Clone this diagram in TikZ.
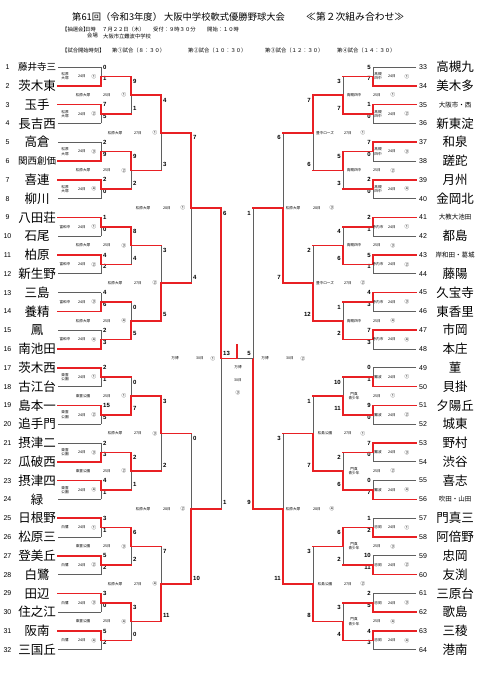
\documentclass[tikz,border=0pt]{standalone}
\usepackage{fontspec}
\setmainfont{Liberation Sans}
\newfontfamily\jp{Noto Sans CJK JP}
\definecolor{redline}{RGB}{232,32,36}
\definecolor{grayline}{RGB}{95,95,95}

\tikzset{
  win/.style={draw=redline,line width=1.6pt,line cap=rect},
  lose/.style={draw=grayline,line width=0.7pt},
  sc/.style={inner sep=0pt,font=\fontsize{6}{6}\selectfont\bfseries},
  tnum/.style={inner sep=0pt,font=\fontsize{7}{7}\selectfont},
  nb/.style={inner sep=0pt,font=\jp\fontsize{12.5}{12.5}\selectfont},
  nm/.style={inner sep=0pt,font=\jp\fontsize{9.5}{9.5}\selectfont},
  ns/.style={inner sep=0pt,font=\jp\fontsize{6.5}{6.5}\selectfont},
  lbl/.style={inner sep=0pt,align=center,font=\jp\fontsize{3.6}{4.4}\selectfont},
  cn/.style={inner sep=0pt,font=\jp\fontsize{4.6}{4.6}\selectfont},
  hd/.style={inner sep=0pt,anchor=west,font=\jp\fontsize{5.3}{5.3}\selectfont},
}

\newcommand{\cnum}[1]{\ifcase#1\or①\or②\or③\or④\fi}

% match: name, top, bottom, top score, bottom score, f(irst)/r, l/r side
\newcommand{\mtch}[7]{%
  \ifnum#4>#5\relax\edef\mwin{#2}\edef\mlos{#3}\else\edef\mwin{#3}\edef\mlos{#2}\fi
  \if#6f\tikzset{hz/.style={lose}}\def\ya{0pt}\def\yb{7pt}\else\tikzset{hz/.style={win}}\def\ya{-5pt}\def\yb{6pt}\fi
  \if#7l\def\an{west}\def\xs{2pt}\else\def\an{east}\def\xs{-2pt}\fi
  \draw[lose] (\mlos -| #1) -- (#1);
  \draw[hz] (\mlos) -- (\mlos -| #1);
  \draw[win] (\mwin) -- (\mwin -| #1) -- (#1);
  \node[sc,anchor=\an,xshift=\xs,yshift=\ya] (p#1) at (#2 -| #1) {#4};
  \node[sc,anchor=\an,xshift=\xs,yshift=\yb] (q#1) at (#3 -| #1) {#5};
}

% venue, day and game number of a match
\newcommand{\mlab}[7]{%
  \node[lbl,xshift=#5pt] (v#1) at (#1) {#2};
  \node[lbl,xshift=#6pt] (d#1) at (#1) {#3};
  \node[cn,xshift=#7pt] (c#1) at (#1) {\cnum{#4}};
}

\begin{document}
\begin{tikzpicture}[x=1pt,y=-1pt]
\fill[white] (0,0) rectangle (480,679);
\useasboundingbox (0,0) rectangle (480,679);

% heading
\node[inner sep=0pt,anchor=west,font=\jp\fontsize{9.3}{9.3}\selectfont] (ttl) at (72,17) {第61回（令和3年度）\hspace{2pt}大阪中学校軟式優勝野球大会};
\node[inner sep=0pt,anchor=west,font=\jp\fontsize{9.8}{9.8}\selectfont] (sub) at (306,17) {≪第２次組み合わせ≫};
\node[hd] (h1) at (62,29) {【抽選会】};
\node[hd] (h2) at (85,29) {日時};
\node[hd] (h3) at (102,29) {７月２２日（木）};
\node[hd] (h4) at (153,29) {受付：９時３０分};
\node[hd] (h5) at (207,29) {開始：１０時};
\node[hd] (h6) at (87,36) {会場};
\node[hd] (h7) at (103,36) {大阪市立難波中学校};
\node[hd] (h8) at (62,50) {【試合開始時刻】};
\node[hd] (h9) at (112,50) {第①試合（８：３０）};
\node[hd] (h10) at (188,50) {第②試合（１０：３０）};
\node[hd] (h11) at (265,50) {第③試合（１２：３０）};
\node[hd] (h12) at (337,50) {第④試合（１４：３０）};

% match points
\foreach \k in {1,...,16}{
  \coordinate (La\k) at (101,{67+(2*\k-1.5)*18.8});
  \coordinate (Ra\k) at (373,{67+(2*\k-1.5)*18.8});
}
\foreach \k in {1,...,8}{
  \coordinate (Lb\k) at (131,{67+(4*\k-2.5)*18.8});
  \coordinate (Rb\k) at (343,{67+(4*\k-2.5)*18.8});
}
\foreach \k in {1,...,4}{
  \coordinate (Lc\k) at (161,{67+(8*\k-4.5)*18.8});
  \coordinate (Rc\k) at (313,{67+(8*\k-4.5)*18.8});
}
\foreach \k in {1,2}{
  \coordinate (Ld\k) at (191,{67+(16*\k-8.5)*18.8});
  \coordinate (Rd\k) at (283,{67+(16*\k-8.5)*18.8});
}
\coordinate (Le) at (221,358.4);
\coordinate (Re) at (253,358.4);
\coordinate (F) at (237,358.4);
\coordinate (Fc) at (237,345);

% teams
\foreach \i/\nm/\st in {1/藤井寺三/nm,2/茨木東/nb,3/玉手/nb,4/長吉西/nb,5/高倉/nb,6/関西創価/nm,
  7/喜連/nb,8/柳川/nb,9/八田荘/nb,10/石尾/nb,11/柏原/nb,12/新生野/nb,13/三島/nb,14/養精/nb,
  15/鳳/nb,16/南池田/nb,17/茨木西/nb,18/古江台/nb,19/島本一/nb,20/追手門/nb,21/摂津二/nb,
  22/瓜破西/nb,23/摂津四/nb,24/緑/nb,25/日根野/nb,26/松原三/nb,27/登美丘/nb,28/白鷺/nb,
  29/田辺/nb,30/住之江/nb,31/阪南/nb,32/三国丘/nb}{
  \node[tnum] (n\i) at (7.5,{67+(\i-1)*18.8}) {\i};
  \node[\st] (t\i) at (37,{67+(\i-1)*18.8}) {\nm};
  \coordinate (e\i) at (58,{67+(\i-1)*18.8});
}
\foreach \i/\nm/\st in {33/高槻九/nb,34/美木多/nb,35/大阪市・西/ns,36/新東淀/nb,37/和泉/nb,
  38/蹉跎/nb,39/月州/nb,40/金岡北/nb,41/大教大池田/ns,42/都島/nb,43/岸和田・葛城/ns,44/藤陽/nb,
  45/久宝寺/nb,46/東香里/nb,47/市岡/nb,48/本庄/nb,49/菫/nb,50/貝掛/nb,51/夕陽丘/nb,52/城東/nb,
  53/野村/nb,54/渋谷/nb,55/喜志/nb,56/吹田・山田/ns,57/門真三/nb,58/阿倍野/nb,59/忠岡/nb,
  60/友渕/nb,61/三原台/nb,62/歌島/nb,63/三稜/nb,64/港南/nb}{
  \node[tnum] (n\i) at (423,{67+(\i-33)*18.8}) {\i};
  \node[\st] (t\i) at (455,{67+(\i-33)*18.8}) {\nm};
  \coordinate (e\i) at (416,{67+(\i-33)*18.8});
}

% left half
\foreach \k/\a/\b in {1/0/1,2/7/5,3/2/9,4/2/0,5/1/0,6/4/2,7/4/6,8/2/3,
  9/2/1,10/15/5,11/2/3,12/4/1,13/3/1,14/5/2,15/3/0,16/5/2}{
  \pgfmathtruncatemacro\p{2*\k-1}\pgfmathtruncatemacro\q{2*\k}
  \mtch{La\k}{e\p}{e\q}{\a}{\b}{f}{l}
}
\foreach \k/\a/\b in {1/9/1,2/9/2,3/8/4,4/0/5,5/0/7,6/2/1,7/6/2,8/3/0}{
  \pgfmathtruncatemacro\p{2*\k-1}\pgfmathtruncatemacro\q{2*\k}
  \mtch{Lb\k}{La\p}{La\q}{\a}{\b}{r}{l}
}
\foreach \k/\a/\b in {1/4/3,2/3/5,3/3/2,4/7/11}{
  \pgfmathtruncatemacro\p{2*\k-1}\pgfmathtruncatemacro\q{2*\k}
  \mtch{Lc\k}{Lb\p}{Lb\q}{\a}{\b}{r}{l}
}
\mtch{Ld1}{Lc1}{Lc2}{7}{4}{r}{l}
\mtch{Ld2}{Lc3}{Lc4}{0}{10}{r}{l}
\mtch{Le}{Ld1}{Ld2}{6}{1}{r}{l}

% right half
\foreach \k/\a/\b in {1/5/7,2/1/0,3/7/0,4/2/0,5/2/1,6/5/1,7/4/3,8/7/3,
  9/0/1,10/9/0,11/7/0,12/0/7,13/1/2,14/10/11,15/2/5,16/4/3}{
  \pgfmathtruncatemacro\p{2*\k+31}\pgfmathtruncatemacro\q{2*\k+32}
  \mtch{Ra\k}{e\p}{e\q}{\a}{\b}{f}{r}
}
\foreach \k/\a/\b in {1/3/7,2/5/3,3/4/6,4/1/2,5/10/11,6/2/6,7/6/2,8/3/4}{
  \pgfmathtruncatemacro\p{2*\k-1}\pgfmathtruncatemacro\q{2*\k}
  \mtch{Rb\k}{Ra\p}{Ra\q}{\a}{\b}{r}{r}
}
\foreach \k/\a/\b in {1/7/6,2/2/12,3/1/7,4/3/8}{
  \pgfmathtruncatemacro\p{2*\k-1}\pgfmathtruncatemacro\q{2*\k}
  \mtch{Rc\k}{Rb\p}{Rb\q}{\a}{\b}{r}{r}
}
\mtch{Rd1}{Rc1}{Rc2}{6}{7}{r}{r}
\mtch{Rd2}{Rc3}{Rc4}{3}{11}{r}{r}
\mtch{Re}{Rd1}{Rd2}{1}{9}{r}{r}

% final
\draw[lose] (Re) -- (F);
\draw[win] (Le) -- (F) -- (Fc);
\node[sc,anchor=west,xshift=2pt,yshift=5pt] (pF) at (Le) {13};
\node[sc,anchor=east,xshift=-2pt,yshift=5pt] (qF) at (Re) {5};
\node[lbl] (vF) at (238,367) {万博};
\node[lbl] (dF) at (238,380) {30日};
\node[cn] (cF) at (238,393) {③};

% venues
\foreach \v [count=\g] in {{松原\\大塚},富和中,{東雲\\公園},白鷺}
  \foreach \j in {1,...,4}{
    \pgfmathtruncatemacro\k{4*(\g-1)+\j}
    \mlab{La\k}{\v}{24日}{\j}{-36}{-19}{-7}
  }
\foreach \v [count=\g] in {松原大塚,東雲公園}
  \foreach \j in {1,...,4}{
    \pgfmathtruncatemacro\k{4*(\g-1)+\j}
    \mlab{Lb\k}{\v}{25日}{\j}{-48}{-24}{-7}
  }
\foreach \k in {1,...,4}{\mlab{Lc\k}{松原大塚}{27日}{\k}{-46}{-23}{-6}}
\mlab{Ld1}{松原大塚}{28日}{1}{-48}{-24}{-8}
\mlab{Ld2}{松原大塚}{28日}{2}{-48}{-24}{-8}
\mlab{Le}{万博}{30日}{1}{-46}{-21}{-8}

\foreach \v [count=\g] in {{高槻\\四中},寺内市,難波,忠岡}
  \foreach \j in {1,...,4}{
    \pgfmathtruncatemacro\k{4*(\g-1)+\j}
    \mlab{Ra\k}{\v}{24日}{\j}{5}{19}{34}
  }
\foreach \v [count=\g] in {高槻四中,{門真\\青少年}}
  \foreach \j in {1,...,4}{
    \pgfmathtruncatemacro\k{4*(\g-1)+\j}
    \mlab{Rb\k}{\v}{25日}{\j}{11}{34}{50}
  }
\foreach \v [count=\g] in {豊中ローズ,松島公園}
  \foreach \j in {1,2}{
    \pgfmathtruncatemacro\k{2*(\g-1)+\j}
    \mlab{Rc\k}{\v}{27日}{\j}{12}{35}{50}
  }
\mlab{Rd1}{松原大塚}{28日}{3}{10}{34}{49}
\mlab{Rd2}{松原大塚}{28日}{4}{10}{34}{49}
\mlab{Re}{万博}{30日}{2}{12}{37}{50}
\end{tikzpicture}
\end{document}
